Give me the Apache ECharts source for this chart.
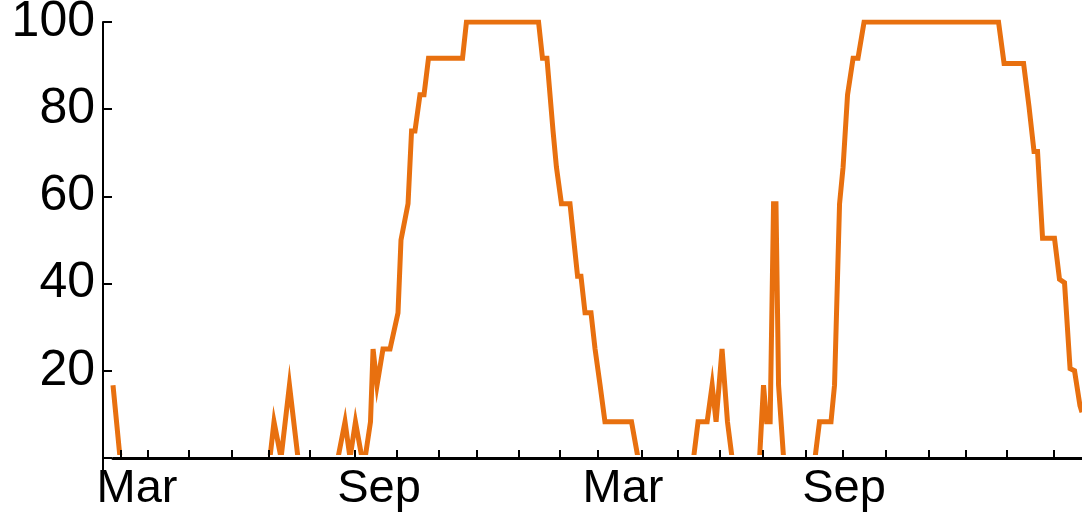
<!DOCTYPE html>
<html>
<head>
<meta charset="utf-8">
<script src="https://cdn.jsdelivr.net/npm/echarts@6/dist/echarts.min.js"></script>
<style>
  html, body { margin: 0; padding: 0; background: #ffffff; }
  #chart { width: 1082px; height: 518px; }
</style>
</head>
<body>
<div id="chart"></div>
<script>
// x: days from the start of the record; y: percent
const days = [
  0, 5.2, 115.8, 118.8, 124, 130.2, 136.5, 166, 171.2, 174.9,
  178.9, 183.7, 186, 190, 191.9, 194.8, 199.2, 204.4, 210.3, 212.5,
  217.7, 220.3, 222.8, 226.5, 229.5, 232.8, 257.9, 260.8, 314, 316.9,
  320.2, 324.7, 327.2, 330.9, 337.2, 342.8, 345.3, 348.3, 352.7, 355.7,
  359.4, 363, 382.6, 387.4, 428.4, 431.7, 438.4, 442.1, 445, 449.4,
  453.4, 456.8, 477.1, 480, 482.3, 484.9, 487.4, 489.2, 491.1, 494.8,
  518, 521.3, 529.8, 532.4, 536.1, 538.7, 542, 546.1, 549.7, 554.2,
  653.4, 657.5, 671.9, 675.9, 679.6, 682.2, 685.9, 694.7, 698.4, 702.1,
  706.2, 709.5, 713.5, 715
];
const percent = [
  16.7, 0, 0, 8.3, 0, 16.7, 0, 0, 8.3, 0,
  8.3, 0, 0, 8.3, 25, 16.7, 25, 25, 33.3, 50,
  58.3, 75, 75, 83.3, 83.3, 91.7, 91.7, 100, 100, 91.7,
  91.7, 75, 66.7, 58.3, 58.3, 41.7, 41.7, 33.3, 33.3, 25,
  16.7, 8.3, 8.3, 0, 0, 8.3, 8.3, 16.7, 8.3, 25,
  8.3, 0, 0, 16.7, 8.3, 8.3, 58.3, 58.3, 16.7, 0,
  0, 8.3, 8.3, 16.7, 58.3, 66.7, 83.3, 91.7, 91.7, 100,
  100, 90.5, 90.5, 80.6, 70.3, 70.3, 50.4, 50.4, 41, 40.2,
  20.5, 20, 12, 10.5
];
const xTickDays = [5.9, 25.8, 56.1, 87.8, 115.1, 145.4, 178.6, 209.6, 240.6, 268.6,
  299.6, 329.8, 357.9, 390.3, 416.9, 447.9, 479.6, 511.4, 538.7, 570.4,
  602.1, 629.4, 659.7, 694.4];
const xLabelDays = [17.7, 196.3, 376.3, 539.4];
const xLabelNames = ['Mar', 'Sep', 'Mar', 'Sep'];
const yTicks = [20, 40, 60, 80, 100];
const yLabels = [20, 40, 60, 80, 100];
const yZeroTick = [0];

const seriesData = days.map((d, i) => [d, percent[i]]);
const font = "'Liberation Sans', Arial, sans-serif";
const black = '#000';

const chart = echarts.init(document.getElementById('chart'));
chart.setOption({
  animation: false,
  backgroundColor: '#ffffff',
  grid: [
    // main plotting area: clipped just above the zero line
    { left: 113, right: 0, top: 22, bottom: 65.5, containLabel: false, outerBoundsMode: 'none' },
    // strip below it, carrying the zero tick and the lower end of the y axis line
    { left: 113, right: 0, top: 452.5, bottom: 44.5, containLabel: false, outerBoundsMode: 'none' }
  ],
  xAxis: [{
    type: 'value',
    gridIndex: 0,
    min: 0,
    max: 715,
    offset: 5.5,
    z: 5,
    axisLine: { show: true, onZero: false, lineStyle: { color: black, width: 3.2 } },
    axisTick: { show: true, inside: true, length: 8, lineStyle: { color: black, width: 2 }, customValues: xTickDays },
    axisLabel: {
      show: true,
      customValues: xLabelDays,
      color: black,
      fontSize: 47,
      lineHeight: 47,
      fontFamily: font,
      margin: 8,
      hideOverlap: false,
      formatter: function (v) {
        let best = 0, bd = Infinity;
        xLabelDays.forEach((d, i) => { const dd = Math.abs(d - v); if (dd < bd) { bd = dd; best = i; } });
        return xLabelNames[best];
      }
    },
    splitLine: { show: false }
  }, {
    type: 'value',
    gridIndex: 1,
    min: 0,
    max: 715,
    show: false
  }],
  yAxis: [{
    type: 'value',
    gridIndex: 0,
    min: 1.261,
    max: 100,
    offset: 10,
    axisLine: { show: true, onZero: false, lineStyle: { color: black, width: 2 } },
    axisTick: { show: true, inside: true, length: 9, lineStyle: { color: black, width: 2 }, customValues: yTicks },
    axisLabel: { show: true, customValues: yLabels, color: black, fontSize: 50, fontFamily: font, margin: 8 },
    splitLine: { show: false }
  }, {
    type: 'value',
    gridIndex: 1,
    min: -3.555,
    max: 1.261,
    offset: 10,
    axisLine: { show: true, onZero: false, lineStyle: { color: black, width: 2 } },
    axisTick: { show: true, inside: true, length: 9, lineStyle: { color: black, width: 2 }, customValues: yZeroTick },
    axisLabel: { show: false },
    splitLine: { show: false }
  }],
  series: [{
    type: 'line',
    xAxisIndex: 0,
    yAxisIndex: 0,
    data: seriesData,
    showSymbol: false,
    symbol: 'none',
    clip: true,
    z: 2,
    lineStyle: { color: '#E8700F', width: 5, join: 'miter' },
    itemStyle: { color: '#E8700F' }
  }]
});
</script>
</body>
</html>
